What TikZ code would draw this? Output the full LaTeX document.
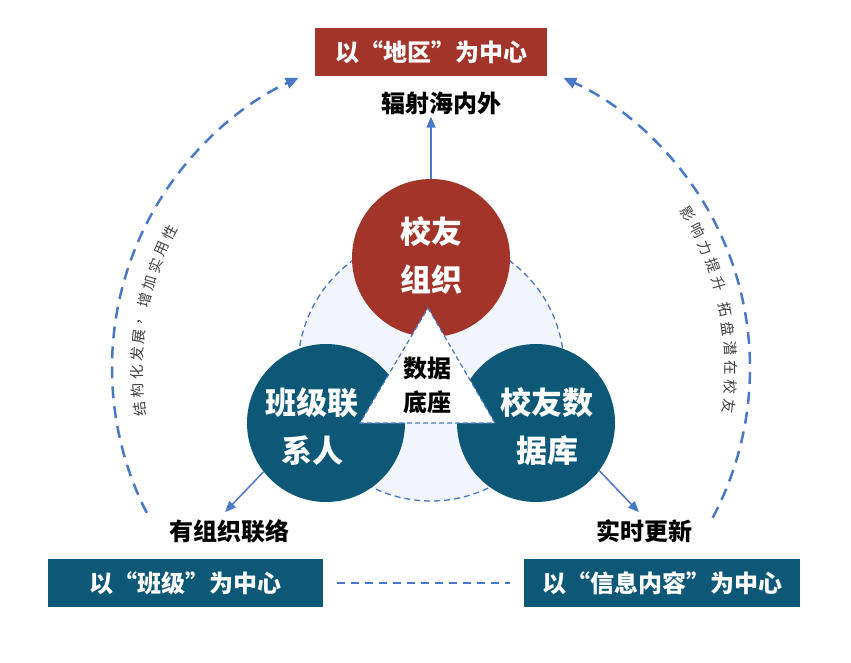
\documentclass[tikz,border=0pt]{standalone}
\usepackage{fontspec}
\setmainfont{Noto Sans CJK SC}
\usetikzlibrary{arrows.meta}
\definecolor{xyred}{HTML}{A2342A}
\definecolor{xyteal}{HTML}{0D5877}
\definecolor{xyblue}{HTML}{4A78C8}
\definecolor{xyfill}{HTML}{F2F5FB}
\tikzset{
  hub/.style={circle,minimum size=158pt,inner sep=0pt,text=white,align=center,
    font=\bfseries\fontsize{31}{48}\selectfont},
  centre/.style={rectangle,minimum width=#1,minimum height=48pt,inner sep=0pt,text=white,
    font=\bfseries\fontsize{24}{28}\selectfont},
  tag/.style={font=\bfseries\fontsize{24}{34}\selectfont,align=center,inner sep=2pt},
  curvy/.style={xyblue,line width=2.5pt,dash pattern=on 12pt off 8pt,
    -{Triangle[length=13pt,width=11pt]}},
  link/.style={xyblue,line width=1.5pt,-{Triangle[length=11pt,width=9pt]}},
  arcchar/.style={font=\fontsize{14.5}{15}\selectfont,text=black!75,inner sep=0pt},
}
\begin{document}
\begin{tikzpicture}[x=1pt,y=-1pt]
\useasboundingbox (0,0) rectangle (851,663);
\coordinate (o) at (431,368);
\fill[xyfill] (o) circle (133pt);
\draw[xyblue,line width=1.3pt,dash pattern=on 6pt off 4pt] (o) circle (133pt);

\node[centre=232pt,fill=xyred] (area) at (431,52) {以“地区”为中心};
\node[centre=275pt,fill=xyteal] (grade) at (185,583) {以“班级”为中心};
\node[centre=276pt,fill=xyteal] (info) at (662,583) {以“信息内容”为中心};

\node[hub,fill=xyred] (org) at (431,258) {};
\node[hub,fill=xyteal] (cls) at (326,423) {};
\node[hub,fill=xyteal] (db) at (536,423) {};
\node[hub,fill=none,minimum size=0pt] at (431,255) {校友\\组织};
\node[hub,fill=none,minimum size=0pt] at (312,427) {班级联\\系人};
\node[hub,fill=none,minimum size=0pt] at (547,427) {校友数\\据库};

\draw[xyblue,line width=1.2pt,dash pattern=on 5pt off 3pt,fill=white]
  (428,308) coordinate (apex) -- (495,423) coordinate (rc) -- (360,423) coordinate (lc) -- cycle;
\node[tag] (base) at (427,385) {数据\\底座};

\node[tag] (reach) at (441,103) {辐射海内外};
\node[tag] (contact) at (229,531) {有组织联络};
\node[tag] (update) at (644,531) {实时更新};

\draw[link] (org.north) -- (org.north |- reach.south);
\draw[link] (cls.218) -- ([xshift=-4pt,yshift=5pt]contact.north);
\draw[link] (db.323) -- ([xshift=-5pt,yshift=5pt]update.north);
\draw[xyblue,line width=2pt,dash pattern=on 8pt off 6pt]
  ([xshift=14pt]grade.east) -- ([xshift=-14pt]info.west);

\coordinate (lfoot) at ([shift={(207:319pt)}]o);
\coordinate (rfoot) at ([shift={(-28:319pt)}]o);
\draw[curvy] (lfoot) arc[start angle=207,end angle=114.5,radius=319pt];
\draw[curvy] (rfoot) arc[start angle=-28,end angle=65.5,radius=319pt];

\foreach \c [count=\i from 0,evaluate=\i as \a using 188-3.55*\i] in {结,构,化,发,展,，,增,加,实,用,性}
  \node[arcchar,rotate=\a-90] at ([shift={(\a:294pt)}]o) {\c};
\foreach \c [count=\i from 0,evaluate=\i as \a using 31-3.7*\i] in {影,响,力,提,升}
  \node[arcchar,rotate=\a-90] at ([shift={(\a:300pt)}]o) {\c};
\foreach \c [count=\i from 0,evaluate=\i as \a using 11.2-3.7*\i] in {拓,盘,潜,在,校,友}
  \node[arcchar,rotate=\a-90] at ([shift={(\a:300pt)}]o) {\c};
\end{tikzpicture}
\end{document}
